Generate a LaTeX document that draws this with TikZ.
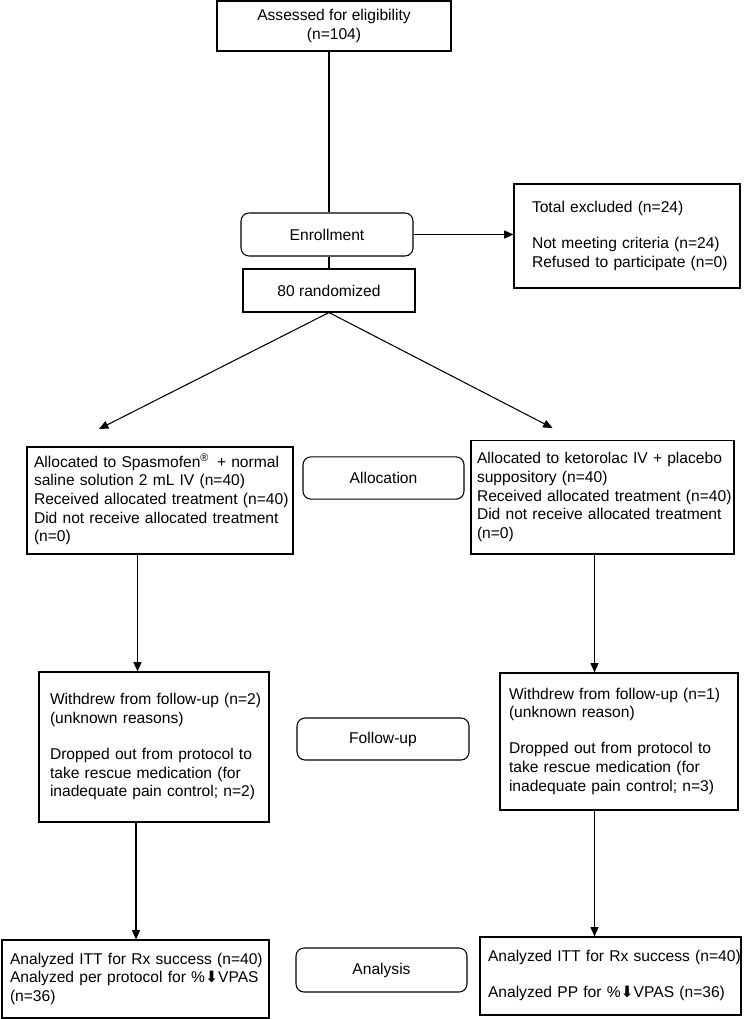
\documentclass[tikz,border=0pt]{standalone}
\usepackage{fontspec}
\setmainfont{Liberation Sans}
\newfontfamily\symfont{DejaVu Sans}
\usetikzlibrary{arrows.meta}
\newcommand{\lines}[1]{\begin{tabular}{@{}l@{}}#1\end{tabular}}
\begin{document}
\begin{tikzpicture}[x=0.75pt,y=-0.75pt,
  box/.style={draw, line width=0.8pt, inner sep=0pt, font=\fontsize{11.7}{14}\selectfont},
  rbox/.style={box, rounded corners=6pt, align=center},
  cbox/.style={box, align=center},
  lbox/.style={box, align=left},
  arr/.style={line width=0.8pt, -{Triangle[length=7pt,width=6pt]}},
  ln/.style={line width=0.8pt}]
\useasboundingbox (0,0) rectangle (746,1019);

\node[cbox, minimum width=175.5pt, minimum height=37.5pt] (top) at (334,26) {Assessed for eligibility\\(n=104)};
\node[rbox, minimum width=129pt, minimum height=32.25pt] (enr) at (327,234.5) {Enrollment};
\node[cbox, minimum width=129pt, minimum height=32.25pt] (rand) at (329,290.5) {80 randomized};
\node[lbox, minimum height=78pt, text width=142.5pt, inner xsep=13.5pt] (excl) at (627,236)
  {\lines{Total excluded (n=24)\\[13pt]Not meeting criteria (n=24)\\Refused to participate (n=0)}};

\node[lbox, minimum height=80.25pt, text width=189pt, inner xsep=5.25pt] (allocL) at (160,500.5)
  {\lines{Allocated to Spasmofen\textsuperscript{®}\, + normal\\saline solution 2 mL IV (n=40)\\Received allocated treatment (n=40)\\Did not receive allocated treatment\\(n=0)}};
\node[rbox, minimum width=120.75pt, minimum height=31.7pt] (allocM) at (383.5,478) {Allocation};
\node[lbox, minimum height=85pt, text width=188.25pt, inner xsep=4.5pt] (allocR) at (602.5,497.3)
  {\lines{Allocated to ketorolac IV + placebo\\suppository (n=40)\\Received allocated treatment (n=40)\\Did not receive allocated treatment\\(n=0)}};

\node[lbox, minimum height=112.5pt, text width=156pt, inner xsep=8.25pt] (fuL) at (154,747)
  {\lines{Withdrew from follow-up (n=2)\\(unknown reasons)\\[13pt]Dropped out from protocol to\\take rescue medication (for\\inadequate pain control; n=2)}};
\node[rbox, minimum width=129pt, minimum height=31.5pt] (fuM) at (383,739) {Follow-up};
\node[lbox, minimum height=102.75pt, text width=165pt, inner xsep=6.75pt] (fuR) at (619,741.5)
  {\lines{Withdrew from follow-up (n=1)\\(unknown reason)\\[13pt]Dropped out from protocol to\\take rescue medication (for\\inadequate pain control; n=3)}};

\node[lbox, minimum height=58.5pt, text width=188.25pt, inner xsep=6pt] (anL) at (135.5,979)
  {\lines{Analyzed ITT for Rx success (n=40)\\Analyzed per protocol for \%{\symfont ⬇}VPAS\\(n=36)}};
\node[rbox, minimum width=128.25pt, minimum height=33pt] (anM) at (381.5,970) {Analysis};
\node[lbox, minimum height=58.5pt, text width=183.75pt, inner xsep=6pt] (anR) at (610.5,976)
  {\lines{Analyzed ITT for Rx success (n=40)\\[13pt]Analyzed PP for \%{\symfont ⬇}VPAS (n=36)}};

\coordinate (tipL) at (99,429);
\coordinate (tipR) at (552.5,428);
\coordinate (xL) at (137.5,0);
\coordinate (xLb) at (136,0);
\coordinate (xR) at (594.5,0);

\draw[ln] (top.south -| rand.north) -- (enr.north -| rand.north);
\draw[ln] (enr.south -| rand.north) -- (rand.north);
\draw[arr] (enr.east) -- (enr.east -| excl.west);
\draw[arr] (rand.south) -- (tipL);
\draw[arr] (rand.south) -- (tipR);
\draw[arr] (allocL.south -| xL) -- (fuL.north -| xL);
\draw[arr] (allocR.south -| xR) -- (fuR.north -| xR);
\draw[arr] (fuL.south -| xLb) -- (anL.north -| xLb);
\draw[arr] (fuR.south -| xR) -- (anR.north -| xR);
\end{tikzpicture}
\end{document}
